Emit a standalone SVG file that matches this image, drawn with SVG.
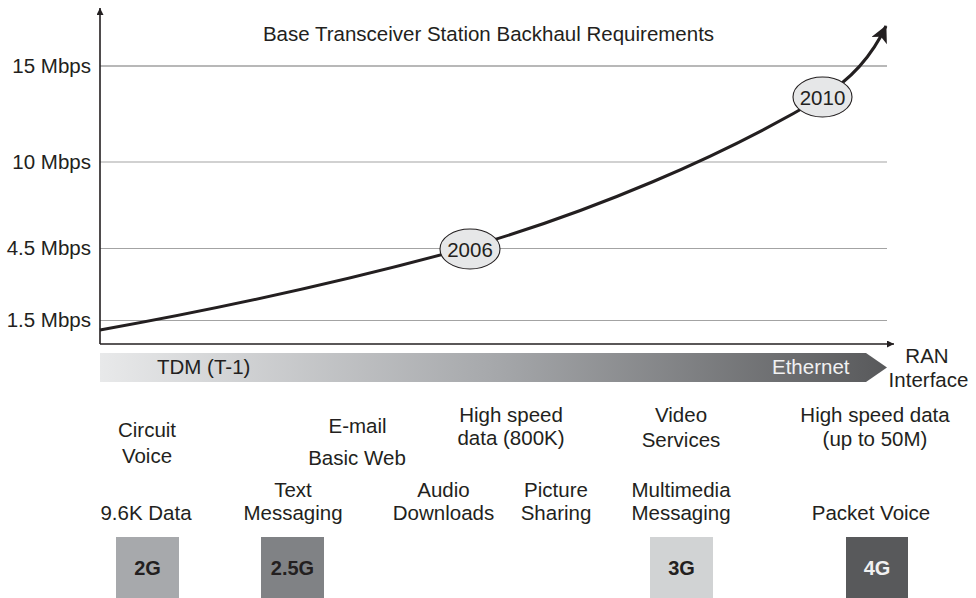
<svg xmlns="http://www.w3.org/2000/svg" width="976" height="598" viewBox="0 0 976 598">
  <defs>
    <style>
      text { font-family: "Liberation Sans", Arial, sans-serif; font-size: 20.5px; fill: #231f20; }
      .mid { text-anchor: middle; }
      .end { text-anchor: end; }
      .light { fill: #f1f1f2; }
      .grid { stroke: #a3a3a3; stroke-width: 1.2; fill: none; }
      .grid-top { stroke: #b8b8b8; stroke-width: 1.8; }
      .axis { stroke: #231f20; stroke-width: 1.6; fill: none; }
      .curve { stroke: #231f20; stroke-width: 3; fill: none; }
      .year { fill: #e6e7e8; stroke: #231f20; stroke-width: 1.1; }
      .gen { font-weight: bold; font-size: 20px; }
    </style>
    <linearGradient id="ranGrad" x1="100" y1="0" x2="887" y2="0" gradientUnits="userSpaceOnUse">
      <stop offset="0" stop-color="#e8e9ea"/>
      <stop offset="0.5" stop-color="#a6a8ab"/>
      <stop offset="1" stop-color="#58595b"/>
    </linearGradient>
    <marker id="axisHead" viewBox="0 0 10 10" refX="10" refY="5" markerWidth="7" markerHeight="7" markerUnits="userSpaceOnUse" orient="auto">
      <path d="M0,0 L10,5 L0,10 Z" fill="#231f20"/>
    </marker>
    <marker id="curveHead" viewBox="0 0 10 10" refX="9.5" refY="5" markerWidth="21" markerHeight="17" markerUnits="userSpaceOnUse" orient="auto">
      <path d="M0,0 L10,5 L0,10 L2.5,5 Z" fill="#231f20"/>
    </marker>
  </defs>

  <rect width="976" height="598" fill="#ffffff"/>

  <!-- title -->
  <text id="title" class="mid" x="488.5" y="41">Base Transceiver Station Backhaul Requirements</text>

  <!-- horizontal grid lines -->
  <g id="grid">
    <line class="grid grid-top" x1="100" y1="66" x2="887" y2="66"/>
    <line class="grid" x1="100" y1="162" x2="887" y2="162"/>
    <line class="grid" x1="100" y1="248.5" x2="887" y2="248.5"/>
    <line class="grid" x1="100" y1="320.5" x2="887" y2="320.5"/>
  </g>

  <!-- rate scale -->
  <g id="scale">
    <text class="end" x="91" y="73">15 Mbps</text>
    <text class="end" x="91" y="169">10 Mbps</text>
    <text class="end" x="91" y="255">4.5 Mbps</text>
    <text class="end" x="91" y="327">1.5 Mbps</text>
  </g>

  <!-- axes -->
  <g id="axes">
    <line class="axis" x1="100" y1="344" x2="100" y2="8" marker-end="url(#axisHead)"/>
    <line class="axis" x1="100" y1="344" x2="894" y2="344" marker-end="url(#axisHead)"/>
  </g>

  <!-- growth curve -->
  <g id="connectors">
    <path class="curve" d="M100,330 C223,308 350,280 470,247 C590,212 720,158 822,97 C852,79 872,56 886,26" marker-end="url(#curveHead)"/>
  </g>

  <g id="y2006">
    <ellipse class="year" cx="470" cy="249" rx="30" ry="20"/>
    <text class="mid" x="470" y="256.5">2006</text>
  </g>
  <g id="y2010">
    <ellipse class="year" cx="822.5" cy="97" rx="29.5" ry="20"/>
    <text class="mid" x="822.5" y="104.5">2010</text>
  </g>

  <!-- RAN interface band -->
  <g id="ran">
    <polygon points="100,353 866,353 887,367.5 866,382 100,382" fill="url(#ranGrad)"/>
    <text x="157" y="373.5">TDM (T-1)</text>
    <text class="light" x="772" y="373.5">Ethernet</text>
    <text class="mid" x="927" y="363">RAN</text>
    <text class="mid" x="928.5" y="387">Interface</text>
  </g>

  <!-- services -->
  <g id="svc-circuit">
    <text class="mid" x="147" y="437">Circuit</text>
    <text class="mid" x="147" y="463">Voice</text>
  </g>
  <g id="svc-email">
    <text class="mid" x="357.5" y="433">E-mail</text>
  </g>
  <g id="svc-web">
    <text class="mid" x="357" y="465">Basic Web</text>
  </g>
  <g id="svc-hsd800">
    <text class="mid" x="511" y="422">High speed</text>
    <text class="mid" x="511" y="445">data (800K)</text>
  </g>
  <g id="svc-video">
    <text class="mid" x="681" y="422">Video</text>
    <text class="mid" x="681" y="447">Services</text>
  </g>
  <g id="svc-hsd50">
    <text class="mid" x="875" y="422">High speed data</text>
    <text class="mid" x="875" y="446">(up to 50M)</text>
  </g>
  <g id="svc-data">
    <text class="mid" x="146" y="520">9.6K Data</text>
  </g>
  <g id="svc-text">
    <text class="mid" x="293" y="497">Text</text>
    <text class="mid" x="293" y="520">Messaging</text>
  </g>
  <g id="svc-audio">
    <text class="mid" x="443.5" y="497">Audio</text>
    <text class="mid" x="443.5" y="520">Downloads</text>
  </g>
  <g id="svc-picture">
    <text class="mid" x="556" y="497">Picture</text>
    <text class="mid" x="556" y="520">Sharing</text>
  </g>
  <g id="svc-mms">
    <text class="mid" x="681" y="497">Multimedia</text>
    <text class="mid" x="681" y="520">Messaging</text>
  </g>
  <g id="svc-voip">
    <text class="mid" x="871" y="520">Packet Voice</text>
  </g>

  <!-- generations -->
  <g id="gen-2g">
    <rect x="116" y="537" width="63" height="61" fill="#a7a9ac"/>
    <text class="mid gen" x="147.5" y="575">2G</text>
  </g>
  <g id="gen-25g">
    <rect x="261" y="537" width="63" height="61" fill="#808285"/>
    <text class="mid gen" x="292.5" y="575">2.5G</text>
  </g>
  <g id="gen-3g">
    <rect x="650" y="537" width="63" height="61" fill="#d1d3d4"/>
    <text class="mid gen" x="681.5" y="575">3G</text>
  </g>
  <g id="gen-4g">
    <rect x="846" y="537" width="62" height="61" fill="#58595b"/>
    <text class="mid gen light" x="877" y="575">4G</text>
  </g>
</svg>
